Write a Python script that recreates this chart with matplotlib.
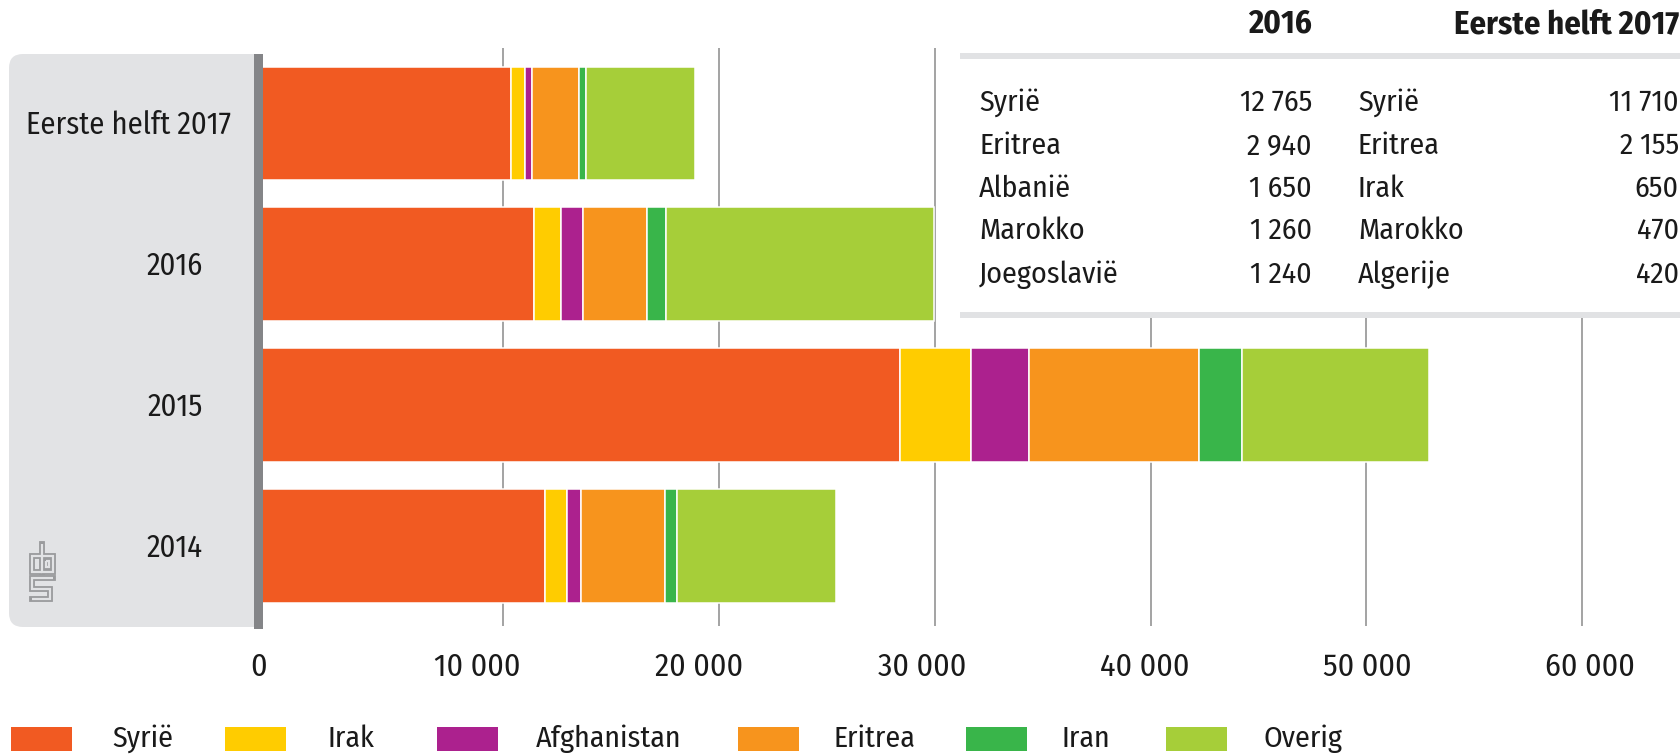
import numpy as np
import matplotlib
matplotlib.use('Agg')
import matplotlib.pyplot as plt
from matplotlib.patches import Rectangle, FancyBboxPatch
from matplotlib.lines import Line2D
from matplotlib.transforms import IdentityTransform, blended_transform_factory

plt.rcParams['font.family'] = ['Fira Sans Condensed', 'DejaVu Sans']

W, H = 1681, 756

# --- data ---
categories = ['Eerste helft 2017', '2016', '2015', '2014']
series = ['Syrië', 'Irak', 'Afghanistan', 'Eritrea', 'Iran', 'Overig']
syrie = [11710, 12765, 29710, 13260]
irak = [650, 1230, 3300, 1040]
afghanistan = [320, 1050, 2690, 640]
eritrea = [2155, 2940, 7870, 3910]
iran = [330, 920, 2000, 520]
overig = [5050, 12390, 8680, 7390]
colors = ['#f15a22', '#ffcc00', '#ac218e', '#f7941d', '#39b54a', '#a6ce39']

ticks = [0, 10000, 20000, 30000, 40000, 50000, 60000]
tick_labels = ['0', '10 000', '20 000', '30 000', '40 000', '50 000', '60 000']
# the original chart is a bit off: gridlines and tick labels don't sit on their values
grid_shift = 1340
label_stretch, label_shift = 1.0315, -200

table_head = ['2016', 'Eerste helft 2017']
top_2016 = ['Syrië', 'Eritrea', 'Albanië', 'Marokko', 'Joegoslavië']
top_2016_n = ['12 765', '2 940', '1 650', '1 260', '1 240']
top_2017 = ['Syrië', 'Eritrea', 'Irak', 'Marokko', 'Algerije']
top_2017_n = ['11 710', '2 155', '650', '470', '420']

TXT = '#1a1a1a'
PX = IdentityTransform()


def top(y):
    # pixel y measured from the top -> display y
    return H - y


fig = plt.figure(figsize=(W / 100, H / 100), dpi=100)

# grey panel behind the category labels
fig.add_artist(FancyBboxPatch((9, top(627)), 241, 573,
                              boxstyle='round,pad=0,rounding_size=14',
                              fc='#e2e3e5', ec='none', transform=PX, zorder=-2))
fig.add_artist(Rectangle((220, top(627)), 38, 573, fc='#e2e3e5', ec='none',
                         transform=PX, zorder=-2))

# main axes
x0 = 258.5
scale = 21.58 / 1000  # px per person
ax = fig.add_axes([x0 / W, 1 - 626 / H, (W - x0) / W, (626 - 48) / H])
ax.patch.set_visible(False)
ax.set_xlim(0, (W - x0) / scale)
ax.set_ylim(3.57, -0.535)
ax.axis('off')

y = np.arange(len(categories))
left = np.zeros(len(categories))
for name, vals, c in zip(series, [syrie, irak, afghanistan, eritrea, iran, overig], colors):
    ax.barh(y, vals, left=left, height=0.807, color=c, edgecolor='white',
            linewidth=1.1, zorder=2)
    left += np.array(vals)

grid_x = [t + grid_shift for t in ticks[1:]]
ax.vlines(grid_x, 3.57, -0.535, color='#8a8a8a', lw=1.1, zorder=0)

tr = blended_transform_factory(ax.transData, fig.transFigure)
for t, lab in zip(ticks, tick_labels):
    xx = t if t == 0 else t * label_stretch + label_shift
    ax.text(xx, 1 - 667 / H, lab, transform=tr, ha='center', va='center',
            fontsize=23, color=TXT)

# category labels
tr_cat = blended_transform_factory(PX, ax.transData)
for i, cat in enumerate(categories):
    xr = 230.5 if i == 0 else 203
    ax.text(xr, i + 0.015, cat, transform=tr_cat, ha='right', va='center',
            fontsize=22, color=TXT)

# axis line
fig.add_artist(Rectangle((254.3, top(629)), 8.3, 575, fc='#848588', ec='none',
                         transform=PX, zorder=3))

# cbs logo (simplified)
lx, ly = 30, 543
logo_paths = [
    [(12, 13), (2, 13), (2, 29), (12, 29)],
    [(12, 1), (12, 29), (23, 29), (23, 13), (12, 13)],
    [(16, 18), (19, 18), (19, 24), (16, 24), (16, 18)],
    [(23, 35), (2, 35), (2, 46), (20, 46), (20, 56), (2, 56)],
]
for p in logo_paths:
    xs = [lx + a for a, b in p]
    ys = [top(ly + b) for a, b in p]
    fig.add_artist(Line2D(xs, ys, color='#9a9b9d', lw=4.2, transform=PX,
                          solid_capstyle='projecting', solid_joinstyle='miter', zorder=4))
for p in logo_paths:
    xs = [lx + a for a, b in p]
    ys = [top(ly + b) for a, b in p]
    fig.add_artist(Line2D(xs, ys, color='#e2e3e5', lw=1.6, transform=PX,
                          solid_capstyle='butt', solid_joinstyle='miter', zorder=5))

# table box in the top right
fig.add_artist(Rectangle((958, top(318)), W - 958, 318, fc='white', ec='none',
                         transform=PX, zorder=2))
for yl in (53, 312):
    fig.add_artist(Rectangle((960, top(yl + 5.5)), W - 960, 5.5, fc='#e1e2e4',
                             ec='none', transform=PX, zorder=3))
fig.text(1312, top(24), table_head[0], transform=PX, ha='right', va='center',
         fontsize=23.5, fontweight='bold', color=TXT, zorder=4)
fig.text(1679, top(24), table_head[1], transform=PX, ha='right', va='center',
         fontsize=23.5, fontweight='bold', color=TXT, zorder=4)
row_y = [103, 145.5, 189, 231, 275]
for ry, a, an, b, bn in zip(row_y, top_2016, top_2016_n, top_2017, top_2017_n):
    fig.text(979, top(ry), a, transform=PX, ha='left', va='center', fontsize=21.5, color=TXT, zorder=4)
    fig.text(1312, top(ry), an, transform=PX, ha='right', va='center', fontsize=21.5, color=TXT, zorder=4)
    fig.text(1358, top(ry), b, transform=PX, ha='left', va='center', fontsize=21.5, color=TXT, zorder=4)
    fig.text(1679, top(ry), bn, transform=PX, ha='right', va='center', fontsize=21.5, color=TXT, zorder=4)

# legend
patch_x = [11, 225, 437, 738, 966, 1166]
label_x = [142.6, 350.6, 609, 874, 1086, 1302.6]
for px_, lx_, name, c in zip(patch_x, label_x, series, colors):
    fig.add_artist(Rectangle((px_, top(751)), 61, 24, fc=c, ec='none', transform=PX))
    fig.text(lx_, top(739), name, transform=PX, ha='center', va='center',
             fontsize=21.5, color=TXT)

fig.savefig('out.png', dpi=100)
